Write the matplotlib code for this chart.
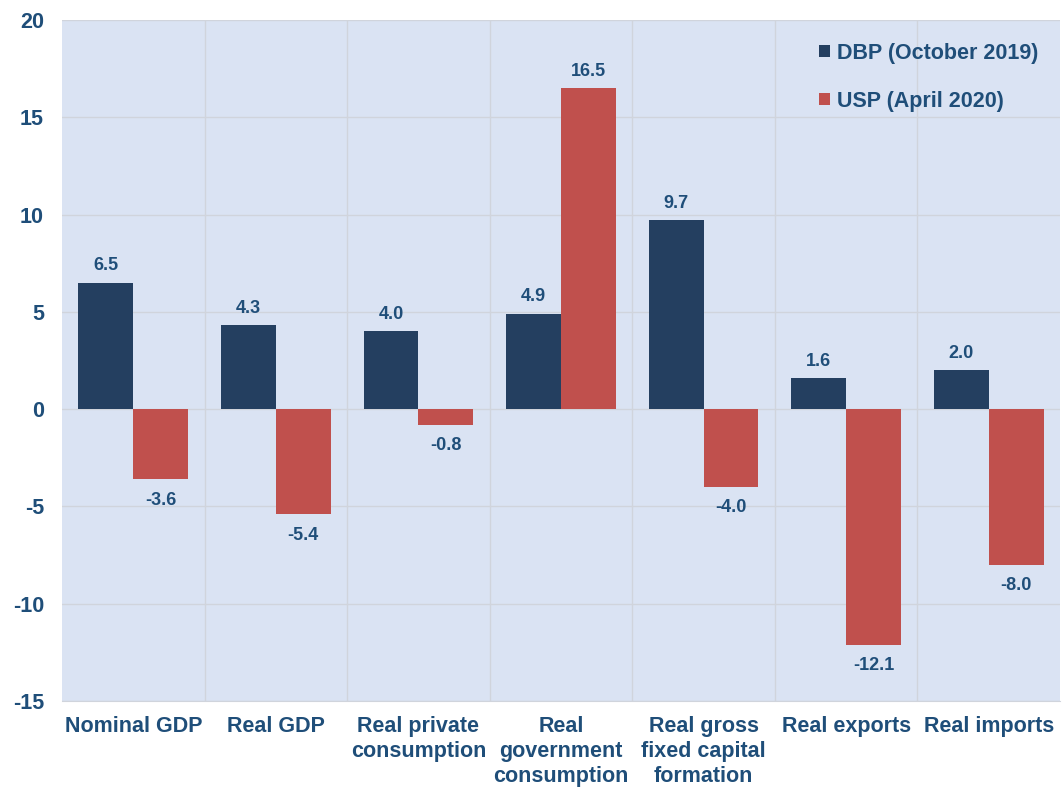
import matplotlib
matplotlib.use("Agg")
import matplotlib.pyplot as plt
import numpy as np

categories = ["Nominal GDP", "Real GDP", "Real private\nconsumption",
              "Real\ngovernment\nconsumption", "Real gross\nfixed capital\nformation",
              "Real exports", "Real imports"]
dbp = [6.5, 4.3, 4.0, 4.9, 9.7, 1.6, 2.0]
usp = [-3.6, -5.4, -0.8, 16.5, -4.0, -12.1, -8.0]
series_names = ["DBP (October 2019)", "USP (April 2020)"]
yticks = [-15, -10, -5, 0, 5, 10, 15, 20]

plt.rcParams['font.family'] = ['Liberation Sans', 'DejaVu Sans']
txt = '#1F4E79'
c1 = '#243F60'
c2 = '#C0504D'
bg = '#DAE3F3'

fig = plt.figure(figsize=(10.62, 7.92), dpi=100)
ax = fig.add_axes([62/1062, 1-701/792, 998/1062, 681/792])
ax.set_facecolor(bg)

x = np.arange(len(categories))
w = 0.385
b1 = ax.bar(x - w/2, dbp, w, color=c1, label=series_names[0], zorder=3)
b2 = ax.bar(x + w/2, usp, w, color=c2, label=series_names[1], zorder=3)

for bars, vals in ((b1, dbp), (b2, usp)):
    for r, v in zip(bars, vals):
        xc = r.get_x() + r.get_width()/2
        if v >= 0:
            ax.annotate(f"{v:.1f}", (xc, v), xytext=(0, 6), textcoords='offset points',
                        ha='center', va='bottom', fontsize=13, fontweight='bold', color=txt)
        else:
            ax.annotate(f"{v:.1f}", (xc, v), xytext=(0, -9), textcoords='offset points',
                        ha='center', va='top', fontsize=13, fontweight='bold', color=txt)

ax.set_xlim(-0.5, len(categories) - 0.5)
ax.set_ylim(-15, 20)
ax.set_yticks(yticks)
ax.set_yticklabels([str(t) for t in yticks], fontsize=15.5, fontweight='bold', color=txt)
ax.set_xticks(x)
ax.set_xticklabels(categories, fontsize=15.5, fontweight='bold', color=txt, va='top', linespacing=1.25)
ax.tick_params(axis='both', length=0)
ax.tick_params(axis='x', pad=11)
ax.tick_params(axis='y', pad=13)

for t in yticks:
    ax.axhline(t, color='#D0D4DC', lw=1, zorder=1)
for i in range(1, len(categories)):
    ax.axvline(i - 0.5, color='#D0D4DC', lw=1, zorder=1)

for s in ax.spines.values():
    s.set_visible(False)
ax.spines['bottom'].set_visible(True)
ax.spines['bottom'].set_color('#D0D4DC')

leg = ax.legend(loc='upper right', bbox_to_anchor=(0.998, 0.995), frameon=False,
                fontsize=15.5, handlelength=0.5, handleheight=0.5, handletextpad=0.35,
                labelspacing=1.25)
for t in leg.get_texts():
    t.set_color(txt)
    t.set_fontweight('bold')

fig.savefig("out.png", dpi=100)
